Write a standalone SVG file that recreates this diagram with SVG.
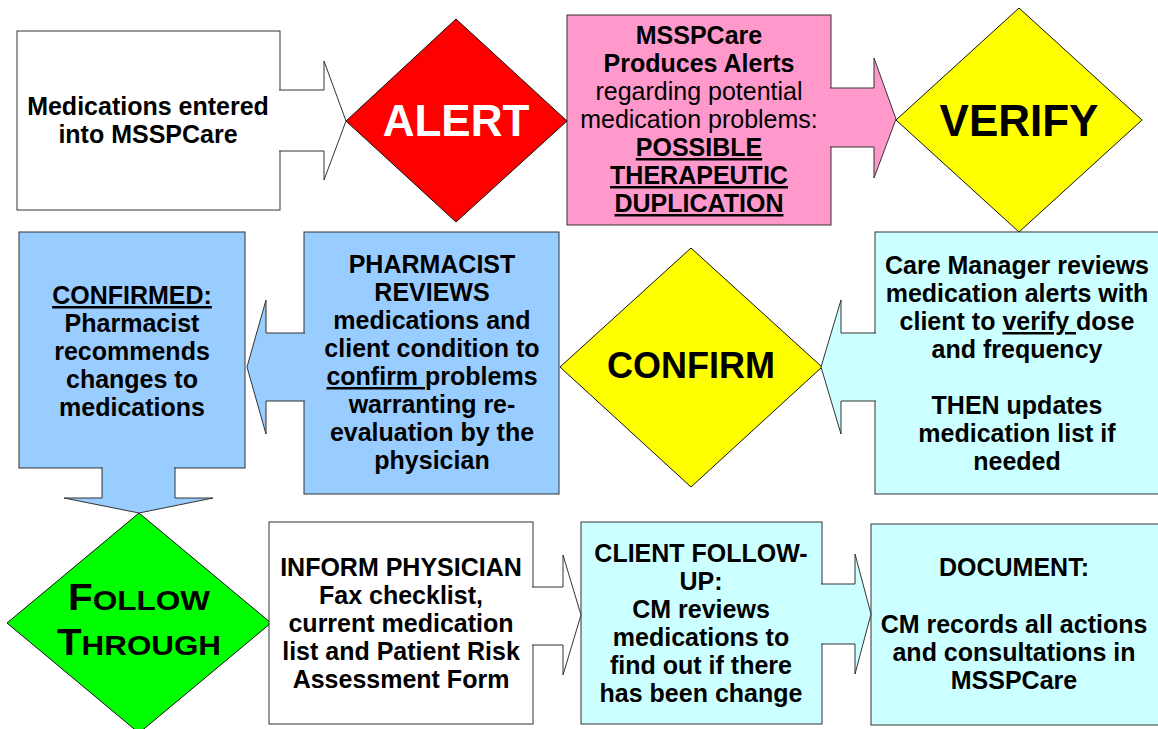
<svg xmlns="http://www.w3.org/2000/svg" width="1158" height="729" viewBox="0 0 1158 729">
  <style>
    .shape { stroke: #333; stroke-width: 1; }
    .diamond { stroke: #111; stroke-width: 1; }
    .white { fill: #FFFFFF; }
    .pink { fill: #FF99CC; }
    .blue { fill: #99CCFF; }
    .cyan { fill: #CCFFFF; }
    .red { fill: #FF0000; }
    .yellow { fill: #FFFF00; }
    .green { fill: #00FF00; }
    text { font-family: "Liberation Sans", Arial, sans-serif; font-weight: bold; text-anchor: middle; fill: #000; }
    .body { font-size: 25px; }
    .plain { font-weight: normal; }
    .big { font-size: 44px; }
    .mid { font-size: 36px; }
    .u { text-decoration: underline; }
  </style>
  <rect width="1158" height="729" fill="#FFFFFF"/>

  <!-- Row 1 -->
  <g id="node-entered">
    <rect class="shape white" x="17" y="31" width="263" height="179"/>
    <text class="body" x="148" y="115">Medications entered</text>
    <text class="body" x="148" y="143">into MSSPCare</text>
  </g>

  <g id="node-alert">
    <path class="diamond red" d="M346,121 L456,19 L567,121 L456,222 Z"/>
    <text class="big" x="456" y="136" style="fill:#FFFFFF">ALERT</text>
  </g>

  <g id="node-produces-alerts">
    <rect class="shape pink" x="567" y="15" width="264" height="210"/>
    <text class="body" x="699" y="44">MSSPCare</text>
    <text class="body" x="699" y="72">Produces Alerts</text>
    <text class="body plain" x="699" y="100">regarding potential</text>
    <text class="body plain" x="699" y="128">medication problems:</text>
    <text class="body u" x="699" y="156">POSSIBLE</text>
    <text class="body u" x="699" y="184">THERAPEUTIC</text>
    <text class="body u" x="699" y="212">DUPLICATION</text>
  </g>

  <g id="node-verify">
    <path class="diamond yellow" d="M896,120 L1019,8 L1142,120 L1019,232 Z"/>
    <text class="big" x="1019" y="136">VERIFY</text>
  </g>

  <!-- Row 2 -->
  <g id="node-confirmed">
    <rect class="shape blue" x="19" y="232" width="226" height="236"/>
    <text class="body u" x="132" y="304">CONFIRMED:</text>
    <text class="body" x="132" y="332">Pharmacist</text>
    <text class="body" x="132" y="360">recommends</text>
    <text class="body" x="132" y="388">changes to</text>
    <text class="body" x="132" y="416">medications</text>
  </g>

  <g id="node-pharmacist">
    <rect class="shape blue" x="304" y="232" width="255" height="262"/>
    <text class="body" x="432" y="273">PHARMACIST</text>
    <text class="body" x="432" y="301">REVIEWS</text>
    <text class="body" x="432" y="329">medications and</text>
    <text class="body" x="432" y="357">client condition to</text>
    <text class="body" x="432" y="385"><tspan class="u">confirm </tspan>problems</text>
    <text class="body" x="432" y="413">warranting re-</text>
    <text class="body" x="432" y="441">evaluation by the</text>
    <text class="body" x="432" y="469">physician</text>
  </g>

  <g id="node-confirm">
    <path class="diamond yellow" d="M560,367 L691,248 L822,367 L691,487 Z"/>
    <text class="mid" x="691" y="378">CONFIRM</text>
  </g>

  <g id="node-care-manager">
    <rect class="shape cyan" x="875" y="232" width="284" height="262"/>
    <text class="body" x="1017" y="274">Care Manager reviews</text>
    <text class="body" x="1017" y="302">medication alerts with</text>
    <text class="body" x="1017" y="330">client to <tspan class="u">verify </tspan>dose</text>
    <text class="body" x="1017" y="358">and frequency</text>
    <text class="body" x="1017" y="414">THEN updates</text>
    <text class="body" x="1017" y="442">medication list if</text>
    <text class="body" x="1017" y="470">needed</text>
  </g>

  <!-- Row 3 -->
  <g id="node-follow-through">
    <path class="diamond green" d="M7,623 L139,513 L271,623 L139,733 Z"/>
    <text x="139" y="610" textLength="142" lengthAdjust="spacingAndGlyphs"><tspan style="font-size:36px">F</tspan><tspan style="font-size:28px">OLLOW</tspan></text>
    <text x="139" y="655" textLength="164" lengthAdjust="spacingAndGlyphs"><tspan style="font-size:36px">T</tspan><tspan style="font-size:28px">HROUGH</tspan></text>
  </g>

  <g id="node-inform-physician">
    <rect class="shape white" x="269" y="522" width="264" height="202"/>
    <text class="body" x="401" y="576">INFORM PHYSICIAN</text>
    <text class="body" x="401" y="604">Fax checklist,</text>
    <text class="body" x="401" y="632">current medication</text>
    <text class="body" x="401" y="660">list and Patient Risk</text>
    <text class="body" x="401" y="688">Assessment Form</text>
  </g>

  <g id="node-client-follow-up">
    <rect class="shape cyan" x="581" y="522" width="241" height="202"/>
    <text class="body" x="701" y="562">CLIENT FOLLOW-</text>
    <text class="body" x="701" y="590">UP:</text>
    <text class="body" x="701" y="618">CM reviews</text>
    <text class="body" x="701" y="646">medications to</text>
    <text class="body" x="701" y="674">find out if there</text>
    <text class="body" x="701" y="702">has been change</text>
  </g>

  <g id="node-document">
    <rect class="shape cyan" x="871" y="524" width="288" height="201"/>
    <text class="body" x="1014" y="576">DOCUMENT:</text>
    <text class="body" x="1014" y="633">CM records all actions</text>
    <text class="body" x="1014" y="661">and consultations in</text>
    <text class="body" x="1014" y="689">MSSPCare</text>
  </g>

  <!-- Connectors: block arrows growing out of each step box; the fill starts
       one pixel inside the box so the box border under the shaft is hidden -->
  <g id="connectors">
    <path id="arrow-entered-alert" class="shape white" d="M279,90 H324 V61 L346,121 L324,180 V151 H279"/>
    <path id="arrow-alerts-verify" class="shape pink" d="M830,88 H874 V58 L896,119 L874,178 V147 H830"/>
    <path id="arrow-caremanager-confirm" class="shape cyan" d="M876,333 H841 V300 L821,367 L841,434 V401 H876"/>
    <path id="arrow-pharmacist-confirmed" class="shape blue" d="M305,333 H266 V300 L247,367 L266,434 V401 H305"/>
    <path id="arrow-confirmed-follow" class="shape blue" d="M102,467 V498 H64 L139,513 L213,498 H175 V467"/>
    <path id="arrow-inform-client" class="shape white" d="M532,587 H563 V555 L581,615 L563,675 V645 H532"/>
    <path id="arrow-client-document" class="shape cyan" d="M821,584 H855 V554 L871,614 L855,674 V644 H821"/>
  </g>
</svg>
